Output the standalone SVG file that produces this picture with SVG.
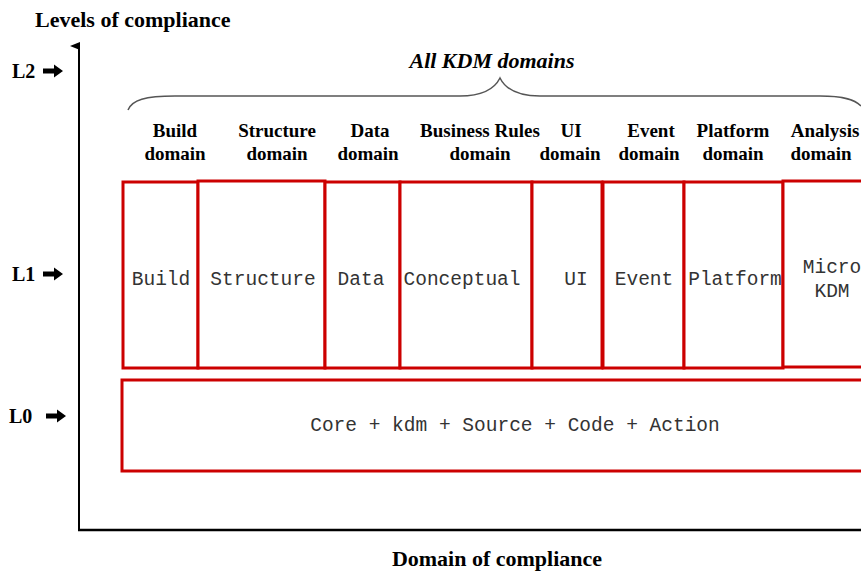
<svg xmlns="http://www.w3.org/2000/svg" width="861" height="571" viewBox="0 0 861 571">
<style>
.hd{font-family:"Liberation Serif",serif;font-weight:bold;font-size:19px;fill:#000;text-anchor:middle}
.ax{font-family:"Liberation Serif",serif;font-weight:bold;font-size:22px;fill:#000}
.lv{font-family:"Liberation Serif",serif;font-weight:bold;font-size:20px;fill:#000}
.mono{font-family:"Liberation Mono","Courier New",monospace;font-size:19.5px;fill:#333;text-anchor:middle}
.box{fill:#fff;stroke:#cc0000;stroke-width:3}
</style>
<defs>
<marker id="ah" markerWidth="8" markerHeight="10" refX="4" refY="9" orient="auto" markerUnits="userSpaceOnUse">
<path d="M0,10 L4,0 L8,10 Z" fill="#000"/>
</marker>
<g id="blk"><path d="M0,-2.5 L11,-2.5 L11,-6.5 L20,0 L11,6.5 L11,2.5 L0,2.5 Z" fill="#000"/></g>
</defs>
<rect width="861" height="571" fill="#fff"/>
<g id="connectors">
<line x1="79" y1="530" x2="79" y2="46" stroke="#000" stroke-width="2" marker-end="url(#ah)"/>
<line x1="78" y1="530" x2="861" y2="530" stroke="#000" stroke-width="2.5"/>
<path d="M128,110 C132,100 145,96 175,96 L460,96 C485,96 495,88 500,78 C505,88 515,96 540,96 L820,96 C845,96 855,100 861,106" fill="none" stroke="#555" stroke-width="1.5"/>
<use href="#blk" x="43" y="71"/>
<use href="#blk" x="43" y="274"/>
<use href="#blk" x="46" y="416"/>
</g>
<text class="ax" x="35" y="27">Levels of compliance</text>
<text class="ax" x="497" y="566" text-anchor="middle">Domain of compliance</text>
<text x="492" y="68" font-family="Liberation Serif,serif" font-weight="bold" font-style="italic" font-size="22" text-anchor="middle">All KDM domains</text>
<text class="lv" x="12" y="78">L2</text>
<text class="lv" x="12" y="281">L1</text>
<text class="lv" x="9" y="423">L0</text>
<g id="headers">
<text class="hd" x="175" y="137">Build</text><text class="hd" x="175" y="160">domain</text>
<text class="hd" x="277" y="137">Structure</text><text class="hd" x="277" y="160">domain</text>
<text class="hd" x="370" y="137">Data</text><text class="hd" x="368" y="160">domain</text>
<text class="hd" x="480" y="137">Business Rules</text><text class="hd" x="480" y="160">domain</text>
<text class="hd" x="571" y="137">UI</text><text class="hd" x="570" y="160">domain</text>
<text class="hd" x="651" y="137">Event</text><text class="hd" x="649" y="160">domain</text>
<text class="hd" x="733" y="137">Platform</text><text class="hd" x="733" y="160">domain</text>
<text class="hd" x="825" y="137">Analysis</text><text class="hd" x="821" y="160">domain</text>
</g>
<g id="build"><rect class="box" x="123" y="182" width="75" height="186"/><text class="mono" x="161" y="285">Build</text></g>
<g id="structure"><rect class="box" x="198" y="181" width="127" height="187"/><text class="mono" x="263" y="285">Structure</text></g>
<g id="data"><rect class="box" x="325" y="182" width="75" height="186"/><text class="mono" x="361" y="285">Data</text></g>
<g id="conceptual"><rect class="box" x="400" y="182" width="132" height="186"/><text class="mono" x="462" y="285">Conceptual</text></g>
<g id="ui"><rect class="box" x="532" y="182" width="70" height="186"/><text class="mono" x="576" y="285">UI</text></g>
<g id="event"><rect class="box" x="603" y="182" width="81" height="186"/><text class="mono" x="644" y="285">Event</text></g>
<g id="platform"><rect class="box" x="684" y="182" width="99" height="186"/><text class="mono" x="735" y="285">Platform</text></g>
<g id="microkdm"><rect class="box" x="783" y="181" width="90" height="186"/><text class="mono" x="832" y="273">Micro</text><text class="mono" x="832" y="297">KDM</text></g>
<g id="core"><rect class="box" x="122" y="380" width="760" height="91"/><text class="mono" x="515" y="431">Core + kdm + Source + Code + Action</text></g>
</svg>
